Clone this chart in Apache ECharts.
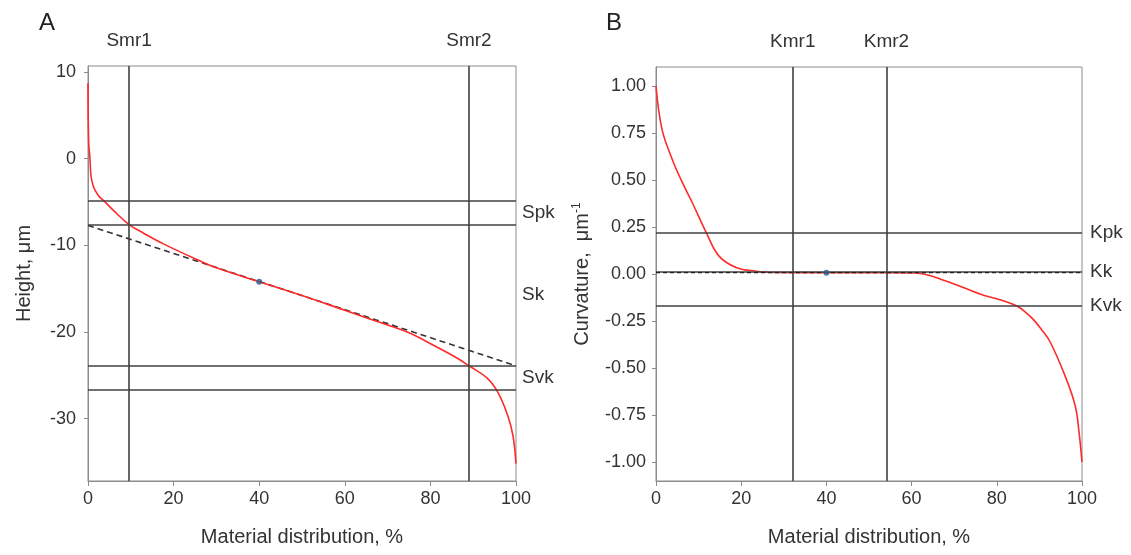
<!DOCTYPE html>
<html>
<head>
<meta charset="utf-8">
<script src="https://cdn.jsdelivr.net/npm/echarts@6/dist/echarts.min.js"></script>
<style>
html,body{margin:0;padding:0;background:#fff;}
#c{width:1131px;height:555px;}
</style>
</head>
<body>
<div id="c"></div>
<script>
// ---------- Panel A data ----------
var xTicks = [0, 20, 40, 60, 80, 100];
var heightTicks = [10, 0, -10, -20, -30];
var heightX = [0, 0.15, 0.45, 0.7, 1.2, 1.6, 2.5, 3.9, 6, 9.6, 13, 17.5, 25.7, 30, 40, 50, 60, 70, 75, 80.6, 86.2, 89, 93.2, 95.8, 98.1, 99.3, 100];
var heightY = [8.7, 2.0, 0.1, -2.0, -3.1, -3.6, -4.3, -4.95, -6.0, -7.6, -8.6, -9.8, -11.7, -12.6, -14.2, -15.8, -17.5, -19.2, -20.1, -21.5, -23.0, -23.9, -25.3, -27.0, -29.7, -32.0, -35.2];
var smrNames = ['Smr1', 'Smr2'];
var smrValues = [9.6, 89.0];
var spkLines = [-4.9, -7.6];
var svkLines = [-23.9, -26.7];
var skDashX = [0, 100];
var skDashY = [-7.7, -23.9];
var heightPoint = [40, -14.2];
var bandNames = ['Spk', 'Sk', 'Svk'];

// ---------- Panel B data ----------
var curvTicks = [1, 0.75, 0.5, 0.25, 0, -0.25, -0.5, -0.75, -1];
var curvX = [0, 1.4, 3.8, 5.9, 8.5, 11.8, 14.8, 18.8, 23.5, 28, 40, 55, 61, 68, 76, 80, 82.5, 84.7, 86.5, 88.5, 90.5, 92.5, 96, 98.4, 99.3, 100];
var curvY = [1.0, 0.77, 0.61, 0.50, 0.38, 0.22, 0.095, 0.035, 0.015, 0.008, 0.007, 0.007, 0.005, -0.037, -0.106, -0.132, -0.15, -0.17, -0.198, -0.24, -0.295, -0.36, -0.54, -0.70, -0.84, -1.0];
var kmrNames = ['Kmr1', 'Kmr2'];
var kmrValues = [32.1, 54.1];
var kNames = ['Kpk', 'Kk', 'Kvk'];
var kValues = [0.22, 0.007, -0.17];
var curvPoint = [40, 0.007];

var FONT = 'Liberation Sans, Arial, sans-serif';
var TXT = '#333333';
var LINE = '#404040';
var BORDER = '#8c8c8c';

function zip(a, b) { return a.map(function (v, i) { return [v, b[i]]; }); }

function xAxisCfg(idx) {
  return {
    gridIndex: idx, type: 'value', min: 0, max: 100, interval: 20,
    name: 'Material distribution, %', nameLocation: 'middle', nameGap: 46,
    nameTextStyle: { fontFamily: FONT, fontSize: 20, color: TXT },
    axisLine: { show: true, onZero: false, lineStyle: { color: BORDER, width: 1 } },
    axisTick: { show: true, inside: false, length: 5, lineStyle: { color: BORDER } },
    axisLabel: { fontFamily: FONT, fontSize: 18, color: TXT, margin: 9 },
    splitLine: { show: false }
  };
}

var vLineStyle = { color: LINE, width: 1.6, type: 'solid' };

var heightBands = [
  (spkLines[0] + spkLines[1]) / 2,
  (spkLines[1] + svkLines[0]) / 2,
  (svkLines[0] + svkLines[1]) / 2
];

function lbl(extra) {
  var o = { show: true, fontFamily: FONT, fontSize: 19, color: TXT };
  for (var k in extra) o[k] = extra[k];
  return o;
}

var option = {
  animation: false,
  backgroundColor: '#ffffff',
  title: [
    { text: 'A', left: 34, top: 6, textStyle: { fontFamily: FONT, fontSize: 24, fontWeight: 'normal', color: '#222' } },
    { text: 'B', left: 601, top: 6, textStyle: { fontFamily: FONT, fontSize: 24, fontWeight: 'normal', color: '#222' } }
  ],
  grid: [
    { left: 88, right: 615, top: 66, bottom: 74, show: true, borderColor: BORDER, borderWidth: 1 },
    { left: 656, right: 49, top: 67, bottom: 74, show: true, borderColor: BORDER, borderWidth: 1 }
  ],
  xAxis: [xAxisCfg(0), xAxisCfg(1)],
  yAxis: [
    {
      gridIndex: 0, type: 'value', min: -37.2, max: 10.7,
      name: 'Height, μm', nameLocation: 'middle', nameGap: 54, nameRotate: 90,
      nameTextStyle: { fontFamily: FONT, fontSize: 20, color: TXT },
      axisLine: { show: true, onZero: false, lineStyle: { color: BORDER, width: 1 } },
      axisTick: { show: true, length: 4, customValues: heightTicks, lineStyle: { color: BORDER } },
      axisLabel: { fontFamily: FONT, fontSize: 18, color: TXT, margin: 12, customValues: heightTicks },
      splitLine: { show: false }
    },
    {
      gridIndex: 1, type: 'value', min: -1.1, max: 1.1,
      name: 'Curvature,  μm{sup|-1}', nameLocation: 'middle', nameGap: 63, nameRotate: 90,
      nameTextStyle: { fontFamily: FONT, fontSize: 20, color: TXT,
        rich: { sup: { fontFamily: FONT, fontSize: 12, color: TXT, verticalAlign: 'top', padding: [0, 0, 10, 0] } } },
      axisLine: { show: true, onZero: false, lineStyle: { color: BORDER, width: 1 } },
      axisTick: { show: true, length: 4, customValues: curvTicks, lineStyle: { color: BORDER } },
      axisLabel: { fontFamily: FONT, fontSize: 18, color: TXT, margin: 10, customValues: curvTicks,
        formatter: function (v) { return v.toFixed(2); } },
      splitLine: { show: false }
    }
  ],
  series: [
    // ----- Panel A -----
    {
      type: 'line', xAxisIndex: 0, yAxisIndex: 0, data: zip(skDashX, skDashY),
      symbol: 'none', lineStyle: { color: '#333', width: 1.6, type: [6, 4] }, z: 3, silent: true
    },
    {
      type: 'line', xAxisIndex: 0, yAxisIndex: 0, data: zip(heightX, heightY),
      symbol: 'none', smooth: 0.4,
      lineStyle: { color: '#ff2a2a', width: 1.6 }, z: 4, silent: true,
      markLine: {
        silent: true, symbol: 'none', animation: false,
        lineStyle: vLineStyle,
        label: { show: false },
        data: smrValues.map(function (v, i) {
          return { xAxis: v, label: lbl({ position: 'end', distance: 16, formatter: smrNames[i] }) };
        }).concat(spkLines.concat(svkLines).map(function (v) { return { yAxis: v }; }))
          .concat(heightBands.map(function (v, i) {
            return { yAxis: v, lineStyle: { color: 'rgba(0,0,0,0)', width: 0 }, label: lbl({ position: 'end', distance: 6, formatter: bandNames[i] }) };
          }))
      }
    },
    {
      type: 'scatter', xAxisIndex: 0, yAxisIndex: 0, data: [heightPoint],
      symbol: 'circle', symbolSize: 6, itemStyle: { color: '#2e5a8a' }, z: 6, silent: true
    },
    // ----- Panel B -----
    {
      type: 'line', xAxisIndex: 1, yAxisIndex: 1, data: zip(curvX, curvY),
      symbol: 'none', smooth: 0.4,
      lineStyle: { color: '#ff2a2a', width: 1.6 }, z: 4, silent: true,
      markLine: {
        silent: true, symbol: 'none', animation: false,
        lineStyle: vLineStyle,
        label: { show: false },
        data: kmrValues.map(function (v, i) {
          return { xAxis: v, label: lbl({ position: 'end', distance: 16, formatter: kmrNames[i] }) };
        }).concat(kValues.map(function (v, i) {
          return { yAxis: v, label: lbl({ position: 'end', distance: 8, formatter: kNames[i] }) };
        }))
      }
    },
    {
      type: 'line', xAxisIndex: 1, yAxisIndex: 1, data: [[0, kValues[1]], [100, kValues[1]]],
      symbol: 'none', lineStyle: { color: '#222', width: 1.2, type: [4, 3] }, z: 5, silent: true
    },
    {
      type: 'scatter', xAxisIndex: 1, yAxisIndex: 1, data: [curvPoint],
      symbol: 'circle', symbolSize: 6, itemStyle: { color: '#2e5a8a' }, z: 6, silent: true
    }
  ]
};

var chart = echarts.init(document.getElementById('c'), null, { renderer: 'canvas' });
chart.setOption(option);
</script>
</body>
</html>
